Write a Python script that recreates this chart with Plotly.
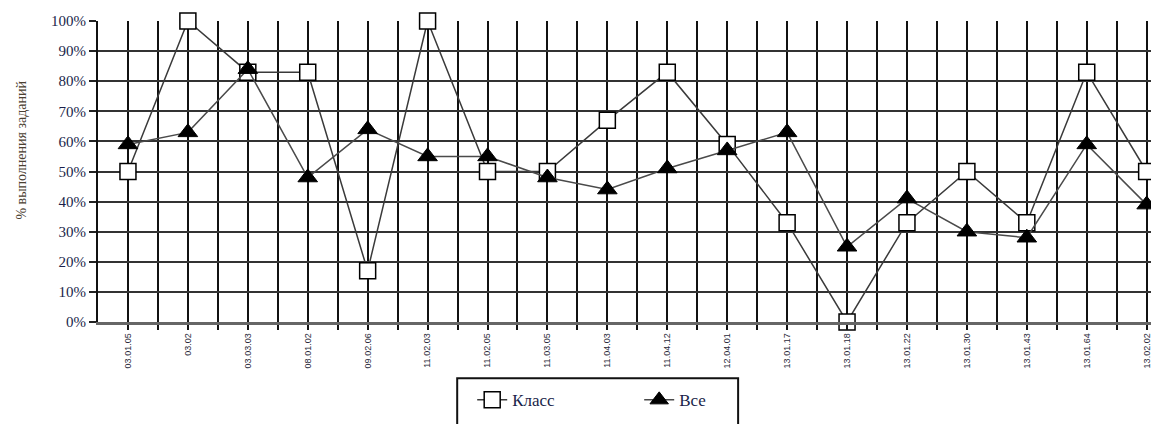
import plotly.graph_objects as go

codes = ["03.01.05", "03.02", "03.03.03", "08.01.02", "09.02.06", "11.02.03",
         "11.02.05", "11.03.05", "11.04.03", "11.04.12", "12.04.01", "13.01.17",
         "13.01.18", "13.01.22", "13.01.30", "13.01.43", "13.01.64", "13.02.02"]
klass = [50, 100, 83, 83, 17, 100, 50, 50, 67, 83, 59, 33, 0, 33, 50, 33, 83, 50]
vse = [59, 63, 84, 48, 64, 55, 55, 48, 44, 51, 57, 63, 25, 41, 30, 28, 59, 39]
y_ticks = [0, 10, 20, 30, 40, 50, 60, 70, 80, 90, 100]

OFF = 8  # page body margin
W, H = 1159 - OFF, 424 - OFF
ML = 97.7 - OFF
MT = 20.7 - OFF
MB = H - (321.7 - OFF)
MR = 0
pw = W - ML - MR
ph = H - MT - MB
step = 59.94  # pixels per category

def px_x(p):  # page x -> paper
    return (p - OFF - ML) / pw

def px_y(p):  # page y -> paper
    return (H - MB - (p - OFF)) / ph

x = list(range(len(codes)))

fig = go.Figure()
fig.add_trace(go.Scatter(
    x=x, y=klass, name="Класс", mode="lines+markers",
    line=dict(color="#3a3a3a", width=1.5),
    marker=dict(symbol="square", size=16, color="white",
                line=dict(color="black", width=1.5)),
    cliponaxis=False,
))
fig.add_trace(go.Scatter(
    x=x, y=vse, name="Все", mode="lines+markers",
    line=dict(color="#4a4a4a", width=1.5),
    marker=dict(symbol="triangle-up", size=17, color="black",
                line=dict(color="black", width=1)),
    cliponaxis=False,
))

fig.update_layout(
    template="none",
    width=W, height=H,
    margin=dict(l=ML, r=MR, t=MT, b=MB, pad=0, autoexpand=False),
    paper_bgcolor="white", plot_bgcolor="white",
    showlegend=True,
    legend=dict(
        orientation="h", x=px_x(472), xanchor="left", y=px_y(382), yanchor="top",
        font=dict(family="Liberation Serif, DejaVu Serif, serif", size=17, color="#1a1f4a"),
        entrywidth=122, entrywidthmode="pixels",
        bgcolor="rgba(0,0,0,0)", borderwidth=0,
    ),
    xaxis=dict(
        automargin=False,
        range=[-0.5, -0.5 + pw / step],
        tickmode="array", tickvals=x, ticktext=codes, tickangle=-90,
        tickfont=dict(family="Liberation Sans Narrow, Liberation Sans", size=9, color="#2a2a3a"),
        showgrid=True, gridcolor="#111111", gridwidth=1.5,
        ticks="outside", ticklen=5, tickcolor="#111111", tickwidth=1.5,
        minor=dict(tickmode="array", tickvals=[i + 0.5 for i in x],
                   showgrid=True, gridcolor="#111111", gridwidth=1.5,
                   ticks="outside", ticklen=5, tickcolor="#111111", tickwidth=1.5),
        showline=True, linecolor="#666666", linewidth=2.5,
        zeroline=False, fixedrange=True,
    ),
    yaxis=dict(
        automargin=False,
        range=[0, 100], tickmode="array", tickvals=y_ticks,
        ticktext=[f"{v}%" for v in y_ticks],
        tickfont=dict(family="Liberation Serif", size=15, color="#1a1f4a"),
        showgrid=True, gridcolor="#333333", gridwidth=2,
        ticks="outside", ticklen=7, tickcolor="#222222", tickwidth=1.5,
        showline=True, linecolor="#111111", linewidth=2,
        zeroline=False, fixedrange=True,
    ),
    annotations=[dict(
        text="% выполнения заданий", textangle=-90,
        xref="paper", yref="paper", x=px_x(21), y=px_y(150),
        xanchor="center", yanchor="middle", showarrow=False,
        font=dict(family="Liberation Serif", size=14, color="#4a4030"),
    )],
    shapes=[dict(
        type="rect", xref="paper", yref="paper",
        x0=px_x(457), x1=px_x(738), y0=px_y(378), y1=px_y(440),
        line=dict(color="#111111", width=2), fillcolor="rgba(0,0,0,0)",
    )],
)

fig.write_html("out.html")
